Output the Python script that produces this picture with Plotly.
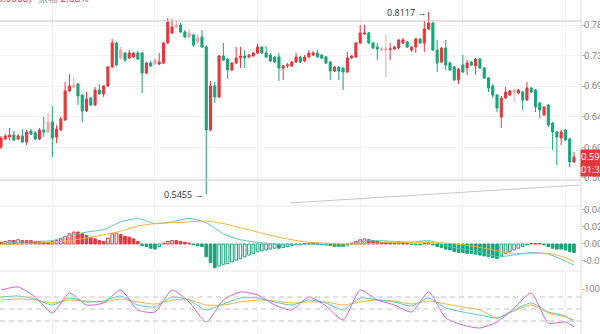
import plotly.graph_objects as go

# ---------------- data ----------------
idx = list(range(135))
opens = [.6053,.6168,.6197,.6226,.6168,.6212,.6125,.6284,.6255,.6168,
         .6298,.6269,.6413,.6197,.6298,.6442,.6860,.6917,.6960,.6802,
         .6572,.6759,.6658,.6874,.6816,.6932,.7205,.7551,.7335,.7407,
         .7335,.7349,.7407,.7407,.7119,.7263,.7248,.7248,.7263,.7551,
         .7695,.7781,.7810,.7709,.7637,.7666,.7565,.7637,.7493,.6298,
         .6932,.6773,.7364,.7320,.7162,.7263,.7335,.7364,.7349,.7364,
         .7407,.7493,.7407,.7378,.7349,.7349,.7191,.7220,.7220,.7277,
         .7349,.7292,.7349,.7378,.7407,.7378,.7349,.7277,.7148,.7205,
         .7191,.7133,.7335,.7349,.7551,.7680,.7695,.7551,.7493,.7450,
         .7450,.7457,.7464,.7479,.7551,.7565,.7450,.7493,.7608,.7551,
         .7752,.7839,.7450,.7277,.7479,.7263,.7205,.7018,.7234,.7191,
         .7277,.7220,.7320,.7191,.7047,.6932,.6802,.6485,.6759,.6802,
         .6845,.6831,.6845,.6730,.6903,.6874,.6687,.6514,.6658,.6399,
         .6269,.6183,.6298,.6168,.5837]
highs = [.6212,.6240,.6327,.6284,.6240,.6312,.6298,.6312,.6284,.6327,
         .6485,.6543,.6644,.6370,.6485,.6989,.7104,.7047,.6975,.6816,
         .6845,.6773,.6917,.6960,.6946,.7220,.7608,.7565,.7493,.7421,
         .7450,.7421,.7436,.7421,.7277,.7292,.7335,.7407,.7565,.7911,
         .7896,.7882,.7839,.7738,.7752,.7680,.7666,.7738,.7522,.7004,
         .6989,.7378,.7551,.7335,.7277,.7493,.7493,.7450,.7392,.7421,
         .7536,.7508,.7508,.7407,.7364,.7407,.7234,.7263,.7292,.7407,
         .7364,.7378,.7450,.7436,.7450,.7392,.7364,.7292,.7220,.7220,
         .7205,.7421,.7378,.7565,.7810,.7810,.7709,.7565,.7551,.7493,
         .7666,.7551,.7508,.7608,.7623,.7580,.7508,.7623,.7623,.7868,
         .7997,.7853,.7594,.7493,.7594,.7277,.7220,.7191,.7378,.7306,
         .7292,.7335,.7335,.7205,.7061,.6960,.6816,.6788,.6917,.6874,
         .6888,.6888,.6860,.6989,.6917,.6888,.6701,.6644,.6672,.6413,
         .6284,.6298,.6312,.6183,.5981]
lows = [.6024,.6154,.6154,.6140,.6154,.6111,.6082,.6226,.6154,.6154,
        .6197,.6255,.5909,.6111,.6284,.6428,.6845,.6903,.6658,.6413,
        .6557,.6644,.6644,.6802,.6773,.6917,.7191,.7220,.7320,.7277,
        .7320,.7335,.7306,.6831,.7104,.7205,.7234,.7234,.7248,.7536,
        .7680,.7767,.7695,.7623,.7623,.7493,.7551,.7479,.5376,.6284,
        .6687,.6759,.7292,.7032,.7148,.7248,.7191,.7191,.7335,.7349,
        .7392,.7392,.7335,.7277,.7263,.7004,.7018,.7191,.7205,.7263,
        .7263,.7277,.7335,.7364,.7335,.7320,.7248,.7018,.7133,.7018,
        .6874,.7119,.7320,.7335,.7536,.7666,.7536,.7464,.7306,.7436,
        .7061,.7306,.7450,.7464,.7536,.7479,.7421,.7407,.7536,.7421,
        .7738,.7436,.7133,.7263,.7162,.7148,.7004,.6960,.7119,.7090,
        .7220,.7090,.7176,.7032,.6845,.6759,.6557,.6327,.6744,.6788,
        .6701,.6816,.6586,.6715,.6831,.6557,.6471,.6500,.6341,.6010,
        .5794,.6082,.6140,.5765,.5823]
closes = [.6183,.6212,.6226,.6154,.6212,.6125,.6269,.6240,.6168,.6298,
          .6269,.6413,.6183,.6312,.6456,.6860,.6932,.6946,.6788,.6572,
          .6744,.6658,.6874,.6816,.6932,.7205,.7551,.7234,.7450,.7306,
          .7407,.7407,.7320,.7119,.7263,.7220,.7306,.7277,.7551,.7853,
          .7781,.7810,.7709,.7637,.7695,.7522,.7623,.7493,.6298,.6932,
          .6773,.7364,.7306,.7162,.7263,.7335,.7364,.7335,.7378,.7407,
          .7493,.7407,.7349,.7292,.7277,.7191,.7220,.7234,.7277,.7349,
          .7277,.7349,.7407,.7407,.7349,.7335,.7263,.7148,.7205,.7148,
          .7133,.7335,.7364,.7551,.7695,.7695,.7551,.7479,.7464,.7464,
          .7464,.7464,.7493,.7594,.7594,.7493,.7493,.7608,.7551,.7752,
          .7839,.7450,.7263,.7479,.7234,.7162,.7018,.7176,.7133,.7263,
          .7234,.7320,.7191,.7047,.6903,.6802,.6615,.6759,.6845,.6860,
          .6874,.6874,.6730,.6903,.6845,.6629,.6586,.6629,.6370,.6269,
          .6197,.6269,.6154,.5837,.5909]
light_idx = [11, 17, 28, 36, 41, 44, 46, 89, 90, 120]

macd_hist = [0.002,0.003,0.004,0.004,0.005,0.004,0.004,0.004,0.003,0.003,
             0.002,0.002,0.003,0.004,0.006,0.009,0.012,0.014,0.014,0.012,
             0.010,0.008,0.006,0.004,0.003,0.007,0.012,0.013,0.011,0.009,
             0.008,0.006,0.003,-0.002,-0.003,-0.005,-0.006,-0.003,0.001,0.003,
             0.004,0.004,0.003,0.002,0.001,-0.001,-0.002,-0.003,-0.015,-0.022,
             -0.028,-0.026,-0.024,-0.023,-0.021,-0.019,-0.017,-0.015,-0.013,-0.011,
             -0.009,-0.008,-0.007,-0.006,-0.005,-0.005,-0.004,-0.003,-0.002,-0.001,
             -0.001,0.0005,0.001,0.001,0.0005,-0.0005,-0.001,-0.002,-0.003,-0.003,
             -0.003,-0.001,0.001,0.003,0.005,0.006,0.005,0.004,0.003,0.002,
             0.002,0.001,0.001,0.002,0.001,0.0005,-0.0005,-0.001,-0.001,0.001,
             0.002,-0.001,-0.003,-0.004,-0.006,-0.007,-0.009,-0.010,-0.010,-0.011,
             -0.011,-0.012,-0.013,-0.014,-0.015,-0.016,-0.017,-0.014,-0.011,-0.009,
             -0.007,-0.005,-0.003,-0.001,0.0005,0.0005,0.0005,-0.001,-0.003,-0.005,
             -0.006,-0.006,-0.007,-0.009,-0.010]

line_idx = list(range(0, 133, 4)) + [134]
dif = [0.001,0.002,0.003,0.004,0.010,0.014,0.017,0.026,0.030,0.024,0.026,0.030,0.025,0.012,
       0.005,0.002,0.000,-0.001,0.000,-0.001,-0.003,0.003,0.004,0.003,0.002,0.004,-0.002,
       -0.006,-0.009,-0.015,-0.013,-0.010,-0.012,-0.020,-0.025]
dea = [-0.001,0.000,0.001,0.002,0.004,0.007,0.011,0.015,0.021,0.024,0.025,0.026,0.027,0.024,
       0.019,0.014,0.009,0.005,0.002,0.001,0.000,0.000,0.001,0.002,0.002,0.002,0.001,
       -0.001,-0.004,-0.008,-0.011,-0.011,-0.011,-0.016,-0.021]
kdj_k = [80,82.5,75,60,77.5,67.5,70,82.5,60,55,80,72.5,47.5,62.5,77.5,77.5,67.5,60,72.5,65,
         47.5,77.5,72.5,67.5,57.5,77.5,52.5,42.5,35,27.5,47.5,65,42.5,32.5,17.5]
kdj_d = [72.5,75,72.5,65,72.5,70,67.5,75,67.5,62.5,72.5,72.5,60,60,67.5,72.5,70,65,67.5,67.5,
         60,67.5,72.5,70,62.5,70,62.5,55,47.5,27.5,45,60,40,30,22.5]
kdj_j = [97.5,105,80,40,90,60,65,97.5,47.5,42.5,97.5,67.5,17.5,72.5,92.5,85,60,47.5,80,57.5,
         22.5,97.5,72.5,60,42.5,92.5,27.5,10,2.5,17.5,52.5,90,15,17.5,5]

price_ticks = [0.7810, 0.7370, 0.6930, 0.6490, 0.6050, 0.5610]
macd_ticks = [0.04, 0.02, 0.0, -0.02]
kdj_levels = [80, 50, 20]
high_label, low_label = "0.8117", "0.5455"
hi_i, lo_i = 100, 48
upper_line, lower_line = 0.7868, 0.5578
trend_pts = ([67.6, 135.4], [0.5247, 0.5506])
last_price_text, countdown_text = "0.5914", "01:33"

# ---------------- style ----------------
RED, GREEN = "#e2393e", "#18a57b"
RED_L, GREEN_L = "#f0a3a5", "#8fd6bf"
CYAN, ORANGE, MAGENTA = "#52c9c1", "#f3b43a", "#d45fd6"
GRID = "#f2f2f2"
TXT = "#8a8a8a"
H = 334.0

def pf(ypx):
    return 1 - ypx / H

fig = go.Figure()

def sub(arr, keep):
    return [v if keep(i) else None for i, v in enumerate(arr)]

norm = lambda i: i not in light_idx
lite = lambda i: i in light_idx
for keep, up, dn in [(norm, RED, GREEN), (lite, RED_L, GREEN_L)]:
    fig.add_trace(go.Candlestick(
        x=idx, open=sub(opens, keep), high=sub(highs, keep), low=sub(lows, keep), close=sub(closes, keep),
        increasing=dict(line=dict(color=up, width=1), fillcolor=up),
        decreasing=dict(line=dict(color=dn, width=1), fillcolor=dn),
        whiskerwidth=0, showlegend=False, hoverinfo="skip", yaxis="y"))

fills, lines_c = [], []
for i, v in enumerate(macd_hist):
    c = RED if v >= 0 else GREEN
    rising = i > 0 and v > macd_hist[i - 1]
    fills.append("white" if rising else c)
    lines_c.append(c)
fig.add_trace(go.Bar(x=idx, y=macd_hist, yaxis="y2", width=0.62,
                     marker=dict(color=fills, line=dict(color=lines_c, width=1)),
                     showlegend=False, hoverinfo="skip"))
fig.add_trace(go.Scatter(x=line_idx, y=dif, yaxis="y2", mode="lines",
                         line=dict(color=CYAN, width=1, shape="spline", smoothing=0.6),
                         showlegend=False, hoverinfo="skip"))
fig.add_trace(go.Scatter(x=line_idx, y=dea, yaxis="y2", mode="lines",
                         line=dict(color=ORANGE, width=1, shape="spline", smoothing=0.6),
                         showlegend=False, hoverinfo="skip"))
for arr, col in [(kdj_d, ORANGE), (kdj_k, CYAN), (kdj_j, MAGENTA)]:
    fig.add_trace(go.Scatter(x=line_idx, y=arr, yaxis="y3", mode="lines",
                             line=dict(color=col, width=1, shape="spline", smoothing=0.6),
                             showlegend=False, hoverinfo="skip"))

shapes = []
for ypx in (206, 271):
    shapes.append(dict(type="line", xref="paper", yref="paper", x0=0, x1=1, y0=pf(ypx), y1=pf(ypx),
                       line=dict(color="#e4e4e4", width=1)))
shapes.append(dict(type="line", xref="paper", yref="paper", x0=1, x1=1, y0=0, y1=1,
                   line=dict(color="#dcdcdc", width=1)))
for yv in (upper_line, lower_line):
    shapes.append(dict(type="line", xref="paper", yref="y", x0=0, x1=1, y0=yv, y1=yv,
                       line=dict(color="#c6c6c6", width=1)))
shapes.append(dict(type="line", xref="x", yref="y", x0=trend_pts[0][0], x1=trend_pts[0][1],
                   y0=trend_pts[1][0], y1=trend_pts[1][1], line=dict(color="#c6c6c6", width=1)))
for lv in kdj_levels:
    shapes.append(dict(type="line", xref="paper", yref="y3", x0=0, x1=1, y0=lv, y1=lv,
                       line=dict(color="#c4c4c4", width=1, dash="5px,4px")))

annotations = [
    dict(x=hi_i, y=highs[hi_i], xref="x", yref="y", text=high_label + " →", showarrow=False,
         xanchor="right", yanchor="middle", xshift=-1, font=dict(size=9, color="#333333")),
    dict(x=lo_i, y=lows[lo_i], xref="x", yref="y", text=low_label + " →", showarrow=False,
         xanchor="right", yanchor="middle", xshift=-1, font=dict(size=9, color="#333333")),
    dict(x=1, y=pf(156), xref="paper", yref="paper", text=last_price_text, showarrow=False,
         xanchor="left", yanchor="middle", bgcolor=RED, font=dict(size=9.5, color="white"),
         borderpad=0, xshift=-1),
    dict(x=1, y=pf(169), xref="paper", yref="paper", text=countdown_text, showarrow=False,
         xanchor="left", yanchor="middle", bgcolor=RED, font=dict(size=9.5, color="white"),
         borderpad=0, xshift=-1),
    dict(x=33 / 581, y=pf(-2), xref="paper", yref="paper", text="0.5914(0.0068)", showarrow=False,
         xanchor="right", yanchor="middle", font=dict(size=10, color="#e2393e")),
    dict(x=36 / 581, y=pf(-2), xref="paper", yref="paper",
         text="<span style='color:#999'>振幅</span> 2.08%", showarrow=False,
         xanchor="left", yanchor="middle", font=dict(size=10, color="#e2393e")),
]

axis_font = dict(family="Roboto, Arial, sans-serif", size=9.5, color=TXT)
common = dict(side="right", ticks="outside", ticklen=3, tickcolor="#bdbdbd", zeroline=False,
              tickfont=axis_font, automargin=False, fixedrange=True, ticklabelstandoff=-3)
fig.update_layout(
    width=600, height=334, margin=dict(l=0, r=19, t=0, b=0, autoexpand=False),
    paper_bgcolor="white", plot_bgcolor="white",
    xaxis=dict(range=[-0.234, 135.64], showticklabels=False, showgrid=True, gridcolor=GRID,
               tickvals=[12, 36, 60, 84, 108, 132], zeroline=False, rangeslider=dict(visible=False),
               fixedrange=True, automargin=False),
    yaxis=dict(domain=[pf(205), 1], range=[0.5218, 0.817], tickvals=price_ticks,
               ticktext=["%.4f" % t for t in price_ticks], showgrid=True, gridcolor=GRID, **common),
    yaxis2=dict(domain=[pf(270), pf(207)], range=[-0.0306, 0.0435], anchor="x",
                tickvals=macd_ticks, ticktext=["0.0400", "0.0200", "0.0000", "-0.0200"],
                showgrid=False, **common),
    yaxis3=dict(domain=[0, pf(272)], range=[-12.5, 142.5], anchor="x",
                tickvals=[100], ticktext=["100.00"], showgrid=False, **common),
    bargap=0.3, shapes=shapes, annotations=annotations,
)

fig.write_html("out.html")
